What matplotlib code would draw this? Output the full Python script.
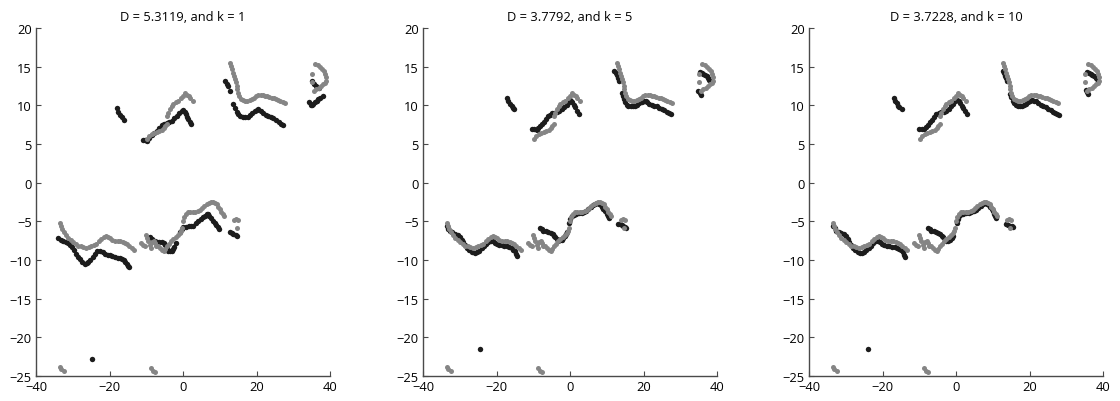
import matplotlib
matplotlib.use("Agg")
import matplotlib.pyplot as plt

plt.rcParams['font.family'] = ['Open Sans', 'DejaVu Sans']
plt.rcParams['axes.unicode_minus'] = True

# Reference contour (gray), shared by all panels
ref_x = [-33.6, -33.1, -32.5,
         -8.6, -8.1, -7.7,
         -33.6, -33.2, -32.8, -32.3, -31.8, -31.2, -30.6, -29.9, -29.2, -28.5, -27.8, -27.1, -26.4,
         -25.7, -25.0, -24.3, -23.6, -22.9, -22.2, -21.6, -21.0, -20.4, -19.8, -19.2, -18.5, -17.8,
         -17.1, -16.4, -15.8, -15.2, -14.6, -14.0, -13.4,
         -11.4, -10.9, -10.4,
         -10.0, -9.7, -9.4, -9.1, -8.8,
         -8.5, -8.0, -7.6, -7.3, -6.8, -6.3, -5.8, -5.3, -4.8, -4.3, -3.8, -3.2, -2.6, -2.0, -1.4,
         -0.9, -0.5, -0.2,
         0.0, 0.3, 0.7, 1.3, 1.9, 2.6, 3.3, 4.0, 4.6, 5.2, 5.8, 6.4, 7.0, 7.6, 8.2, 8.7, 9.2, 9.6,
         10.0, 10.4, 10.8, 11.1,
         14.0, 14.4, 14.9, 14.6,
         -9.9, -9.2, -8.5, -7.8, -7.2, -6.5, -5.8, -5.3, -4.9, -4.4,
         -4.4, -4.0, -3.6, -3.1, -2.6, -2.0, -1.3, -0.6, 0.0, 0.5, 1.0, 1.5, 2.0, 2.6,
         12.8, 13.1, 13.4, 13.7, 14.0, 14.2, 14.4, 14.6, 14.8, 15.0, 15.3, 15.7, 16.3, 16.9, 17.5,
         18.1, 18.7, 19.3, 19.9, 20.5, 21.1, 21.7, 22.3, 22.9, 23.5, 24.1, 24.7, 25.3, 25.9, 26.5,
         27.1, 27.7,
         36.0, 36.6, 37.2, 37.8, 38.3, 38.7, 38.9, 38.9, 35.0, 35.2,
         35.7, 36.3, 36.9, 37.5, 38.1, 38.6]
ref_y = [-23.8, -24.1, -24.4,
         -24.0, -24.3, -24.5,
         -5.2, -5.6, -6.0, -6.4, -6.8, -7.1, -7.4, -7.7, -7.95, -8.15, -8.25, -8.35, -8.4,
         -8.35, -8.25, -8.1, -7.9, -7.6, -7.3, -7.05, -6.95, -7.05, -7.2, -7.4, -7.5, -7.55,
         -7.6, -7.65, -7.75, -7.95, -8.2, -8.4, -8.65,
         -7.8, -8.0, -8.2,
         -6.8, -7.2, -7.6, -8.0, -8.5,
         -7.7, -7.6, -7.8, -8.2, -8.2, -8.4, -8.7, -8.9, -8.6, -8.2, -7.9, -7.6, -7.3, -7.0, -6.8,
         -6.5, -6.2, -5.9,
         -4.9, -4.4, -4.0, -3.85, -3.8, -3.8, -3.75, -3.6, -3.5, -3.3, -3.05, -2.8, -2.6, -2.5,
         -2.45, -2.6, -2.8, -3.1, -3.4, -3.75, -4.05, -4.3,
         -4.8, -4.7, -4.8, -5.8,
         5.65, 6.0, 6.3, 6.45, 6.5, 6.65, 6.8, 7.05, 7.35, 7.6,
         8.6, 9.0, 9.5, 9.9, 10.2, 10.4, 10.6, 10.9, 11.2, 11.6, 11.4, 11.2, 10.9, 10.6,
         15.5, 15.1, 14.7, 14.2, 13.8, 13.4, 13.0, 12.5, 12.1, 11.6, 11.2, 10.8, 10.65, 10.6, 10.6,
         10.7, 10.85, 11.0, 11.2, 11.35, 11.4, 11.35, 11.25, 11.15, 11.05, 11.0, 10.95, 10.85, 10.7,
         10.55, 10.4, 10.3,
         15.3, 15.2, 15.0, 14.7, 14.4, 14.0, 13.6, 13.2, 14.0, 13.0,
         11.9, 12.1, 12.3, 12.5, 12.7, 12.9]

# Fitted contour (black) for k = 1
k1_x = [-24.85,
        -33.9, -33.2, -32.6, -31.9, -31.2, -30.7, -30.3, -29.7, -29.1, -28.5, -28.0, -27.4, -26.7,
        -26.2, -25.8, -25.2, -24.6, -23.9, -23.3, -22.6, -21.9, -21.2, -20.5, -19.9, -19.2, -18.5,
        -17.8, -17.1, -16.6, -16.1, -15.7, -15.3, -14.9, -14.7,
        -9.0, -8.5, -8.1, -7.6, -7.2, -6.5, -5.8, -5.3, -4.9, -4.4, -4.0, -3.5, -3.1, -2.7, -2.4, -1.9,
        -0.8, -0.4, 0.1, 0.8, 1.5, 2.2, 2.8, 3.5, 4.2, 4.9, 5.5, 6.0, 6.4, 6.8, 7.2, 7.7, 8.1, 8.6,
        9.0, 9.5, 9.9,
        12.8, 13.3, 13.7, 14.3, 14.8,
        -18.0, -17.6, -17.2, -16.7, -16.1,
        -11.0, -10.4, -9.9, -9.2, -8.5, -7.8, -7.2, -6.5, -5.8, -5.1, -4.4, -3.7, -3.1, -2.4, -1.7,
        -1.0, -0.4, 0.1, 0.5, 0.8, 1.15, 1.45, 1.8, 2.1,
        11.4, 11.9, 12.3, 12.9,
        13.7, 14.1, 14.6, 15.0, 15.5, 16.2, 16.9, 17.6, 18.2, 18.9, 19.6, 20.1, 20.5, 21.2, 21.9,
        22.6, 23.2, 23.9, 24.6, 25.3, 26.0, 26.6, 27.1,
        34.4, 34.7, 35.0, 35.5, 35.9, 36.4, 36.8, 37.4, 38.0,
        35.2, 35.7, 36.3, 37.0]
k1_y = [-22.85,
        -7.2, -7.35, -7.5, -7.65, -7.8, -8.05, -8.35, -8.75, -9.2, -9.55, -9.85, -10.2, -10.5,
        -10.45, -10.3, -9.95, -9.6, -9.25, -8.9, -8.8, -9.0, -9.2, -9.3, -9.4, -9.5, -9.6,
        -9.7, -9.75, -9.9, -10.05, -10.25, -10.5, -10.75, -10.9,
        -7.05, -7.3, -7.5, -7.6, -7.7, -7.7, -7.7, -7.85, -8.05, -8.45, -8.8, -8.9, -8.9, -8.6, -8.3,
        -7.8,
        -6.4, -6.05, -5.75, -5.7, -5.65, -5.6, -5.55, -5.2, -4.9, -4.7, -4.5, -4.25, -4.05, -4.1,
        -4.3, -4.6, -4.9, -5.2, -5.45, -5.75, -6.0,
        -6.4, -6.5, -6.6, -6.75, -6.9,
        9.7, 9.2, 8.8, 8.45, 8.15,
        5.55, 5.5, 5.45, 5.75, 6.1, 6.4, 6.7, 7.1, 7.45, 7.6, 7.7, 7.85, 8.0, 8.3, 8.65,
        9.0, 9.3, 9.4, 9.2, 8.9, 8.55, 8.2, 7.9, 7.6,
        13.2, 12.8, 12.5, 11.9,
        10.2, 9.6, 9.1, 8.85, 8.65, 8.5, 8.45, 8.55, 8.75, 9.0, 9.3, 9.45, 9.5, 9.3, 9.0,
        8.8, 8.65, 8.5, 8.3, 8.1, 7.9, 7.65, 7.45,
        10.4, 10.1, 10.0, 10.2, 10.4, 10.6, 10.8, 11.0, 11.25,
        13.2, 12.8, 12.5, 12.3]

# Fitted contour (black) for k = 5
k5_x = [-24.5,
        -33.6, -33.1, -32.6, -32.0, -31.3, -30.6, -29.9, -29.4, -29.0, -28.5, -28.1, -27.4, -26.8,
        -25.9, -25.3, -24.7, -24.0, -23.4, -22.8, -22.2, -21.6, -21.0, -20.5, -19.9, -19.3, -18.6,
        -17.9, -17.2, -16.5, -15.9, -15.4, -15.0, -14.6, -14.3,
        -8.2, -7.7, -7.3, -6.6, -5.9, -5.3, -4.7, -4.4, -4.1, -3.6, -3.2, -2.7, -2.3, -1.8, -1.4,
        -1.0, -0.7,
        -0.2, 0.1, 0.45, 1.0, 1.6, 2.4, 3.2, 3.8, 4.4, 5.0, 5.7, 6.3, 6.9, 7.4, 7.9, 8.3, 8.7, 9.1,
        9.5, 10.0, 10.4, 10.7,
        13.1, 13.6, 14.1, 14.5, 15.0, 15.2,
        -17.2, -16.8, -16.3, -15.9, -15.5, -15.2,
        -10.4, -9.7, -9.1, -8.6, -8.2, -7.6, -7.1, -6.5, -5.9, -5.4, -5.0, -4.3, -3.6, -2.9, -2.3,
        -1.6, -0.9, -0.4, 0.0, 0.3, 0.6, 1.0, 1.4, 2.0, 2.5,
        12.0, 12.4, 12.7, 13.1, 13.4,
        14.1, 14.4, 14.7, 15.0, 15.4, 15.9, 16.5, 17.1, 17.7, 18.3, 18.9, 19.5, 20.1, 20.6, 21.0,
        21.6, 22.2, 22.9, 23.6, 24.2, 24.9, 25.6, 26.3, 26.9, 27.4,
        35.4, 35.9, 36.3, 36.8, 37.2, 37.6, 37.9,
        34.9, 35.3, 35.6]
k5_y = [-21.55,
        -5.65, -5.95, -6.2, -6.4, -6.6, -6.8, -7.05, -7.35, -7.7, -8.1, -8.45, -8.75, -9.0,
        -9.1, -8.95, -8.8, -8.5, -8.25, -7.95, -7.7, -7.6, -7.6, -7.75, -7.9, -8.0, -8.1,
        -8.2, -8.25, -8.35, -8.5, -8.65, -8.9, -9.2, -9.5,
        -5.9, -6.05, -6.2, -6.3, -6.35, -6.45, -6.65, -6.85, -7.05, -7.3, -7.5, -7.45, -7.35,
        -7.1, -6.85, -6.6, -6.4,
        -5.2, -4.7, -4.3, -4.15, -4.05, -3.95, -3.9, -3.75, -3.6, -3.45, -3.2, -2.95, -2.75,
        -2.65, -2.75, -2.9, -3.1, -3.4, -3.7, -4.05, -4.35, -4.6,
        -5.35, -5.4, -5.5, -5.55, -5.7, -5.8,
        11.0, 10.6, 10.2, 9.9, 9.65, 9.5,
        6.95, 6.9, 6.85, 7.1, 7.35, 7.6, 7.9, 8.25, 8.6, 8.8, 8.95, 9.05, 9.1, 9.3, 9.5,
        9.75, 10.05, 10.4, 10.7, 10.6, 10.4, 10.05, 9.75, 9.3, 8.9,
        14.5, 14.2, 13.9, 13.5, 13.2,
        11.6, 11.2, 10.8, 10.4, 10.05, 9.95, 9.9, 9.9, 9.95, 10.1, 10.3, 10.45, 10.6, 10.5, 10.4,
        10.2, 10.05, 9.95, 9.85, 9.7, 9.5, 9.35, 9.2, 9.0, 8.85,
        14.35, 14.2, 14.05, 13.9, 13.75, 13.5, 13.3,
        11.8, 11.55, 11.35]

# Fitted contour (black) for k = 10
k10_x = [-24.0,
         -33.5, -33.0, -32.6, -31.9, -31.2, -30.6, -30.0, -29.5, -29.0, -28.5, -28.05, -27.4, -26.7,
         -26.1, -25.5, -24.9, -24.4, -23.7, -23.1, -22.5, -21.9, -21.3, -20.8, -20.1, -19.5, -18.8,
         -18.1, -17.4, -16.7, -16.0, -15.4, -14.9, -14.5, -14.1, -13.85,
         -7.7, -7.2, -6.8, -6.1, -5.4, -4.8, -4.3, -3.9, -3.6, -3.1, -2.7, -2.1, -1.6, -1.1, -0.7,
         0.2, 0.45, 0.7, 1.2, 1.8, 2.7, 3.6, 4.2, 4.8, 5.4, 6.1, 6.8, 7.4, 7.96, 8.4, 8.87, 9.3, 9.8,
         10.1, 10.4, 10.7, 11.0,
         13.6, 14.1, 14.7, 15.2, 15.6,
         -16.9, -16.5, -16.1, -15.7, -15.4, -14.75,
         -10.1, -9.3, -8.6, -8.1, -7.7, -7.1, -6.5, -5.9, -5.4, -4.7, -4.1, -3.4, -2.7, -2.0, -1.4,
         -0.8, -0.2, 0.3, 0.7, 1.2, 1.6, 2.0, 2.4, 3.0,
         12.7, 13.0, 13.3, 13.6, 13.85,
         14.7, 15.0, 15.4, 15.8, 16.3, 16.9, 17.4, 18.0, 18.55, 19.1, 19.7, 20.2, 20.8, 21.3, 21.7,
         22.4, 23.1, 23.8, 24.4, 25.1, 25.8, 26.4, 27.0, 27.5, 28.05,
         35.75, 36.2, 36.65, 37.1, 37.56, 38.0, 38.46,
         35.3, 35.6, 36.0]
k10_y = [-21.55,
         -5.55, -5.9, -6.2, -6.35, -6.5, -6.7, -6.95, -7.3, -7.7, -8.1, -8.5, -8.75, -9.0,
         -9.1, -9.1, -8.95, -8.75, -8.45, -8.15, -7.85, -7.6, -7.6, -7.7, -7.9, -8.05, -8.15,
         -8.2, -8.3, -8.35, -8.45, -8.55, -8.75, -9.0, -9.3, -9.6,
         -5.9, -6.05, -6.2, -6.3, -6.35, -6.45, -6.65, -6.85, -7.05, -7.3, -7.55, -7.5, -7.35,
         -7.1, -6.85,
         -5.2, -4.7, -4.3, -4.15, -4.05, -3.95, -3.9, -3.75, -3.6, -3.5, -3.25, -2.98, -2.75,
         -2.65, -2.75, -2.9, -3.1, -3.4, -3.7, -4.05, -4.35, -4.6,
         -5.35, -5.45, -5.55, -5.65, -5.75,
         11.0, 10.6, 10.3, 9.95, 9.75, 9.5,
         6.95, 6.95, 6.95, 7.2, 7.45, 7.8, 8.15, 8.5, 8.9, 9.0, 9.1, 9.2, 9.3, 9.55, 9.85,
         10.2, 10.6, 10.65, 10.6, 10.3, 9.95, 9.6, 9.3, 8.9,
         14.5, 14.15, 13.85, 13.5, 13.2,
         11.5, 11.05, 10.6, 10.3, 10.05, 9.95, 9.9, 9.95, 10.05, 10.2, 10.4, 10.55, 10.7, 10.6, 10.5,
         10.25, 10.05, 9.9, 9.75, 9.55, 9.4, 9.2, 9.0, 8.85, 8.75,
         14.35, 14.2, 14.05, 13.9, 13.75, 13.55, 13.4,
         12.0, 11.75, 11.5]

d_values = [5.3119, 3.7792, 3.7228]
k_values = [1, 5, 10]
fitted = [(k1_x, k1_y), (k5_x, k5_y), (k10_x, k10_y)]

x_ticks = [-40, -20, 0, 20, 40]
y_ticks = [-25, -20, -15, -10, -5, 0, 5, 10, 15, 20]

fig = plt.figure(figsize=(11.2, 4.02), dpi=100)
lefts = [36 / 1120, 423 / 1120, 809 / 1120]
width = 294 / 1120
bottom = 25 / 402
height = 348 / 402

dark = '#1c1c1c'
gray = '#858585'
spine_col = '#4a4a4a'

for left, (bx, by), d, k in zip(lefts, fitted, d_values, k_values):
    ax = fig.add_axes([left, bottom, width, height])
    ax.plot(bx, by, linestyle='none', marker='o', markersize=3.9,
            markerfacecolor=dark, markeredgecolor='none')
    ax.plot(ref_x, ref_y, linestyle='none', marker='o', markersize=3.6,
            markerfacecolor=gray, markeredgecolor='none')
    ax.set_xlim(-40, 40)
    ax.set_ylim(-25, 20)
    ax.set_xticks(x_ticks)
    ax.set_yticks(y_ticks)
    for side in ('top', 'right'):
        ax.spines[side].set_visible(False)
    for side in ('left', 'bottom'):
        ax.spines[side].set_color(spine_col)
        ax.spines[side].set_linewidth(1.0)
    ax.tick_params(direction='in', length=3.5, width=0.8, color=spine_col,
                   labelsize=9.3, pad=3, labelcolor='black')
    ax.set_title(f'D = {d:.4f}, and k = {k}', fontsize=9.3, pad=6)

fig.savefig('out.png', dpi=100)
